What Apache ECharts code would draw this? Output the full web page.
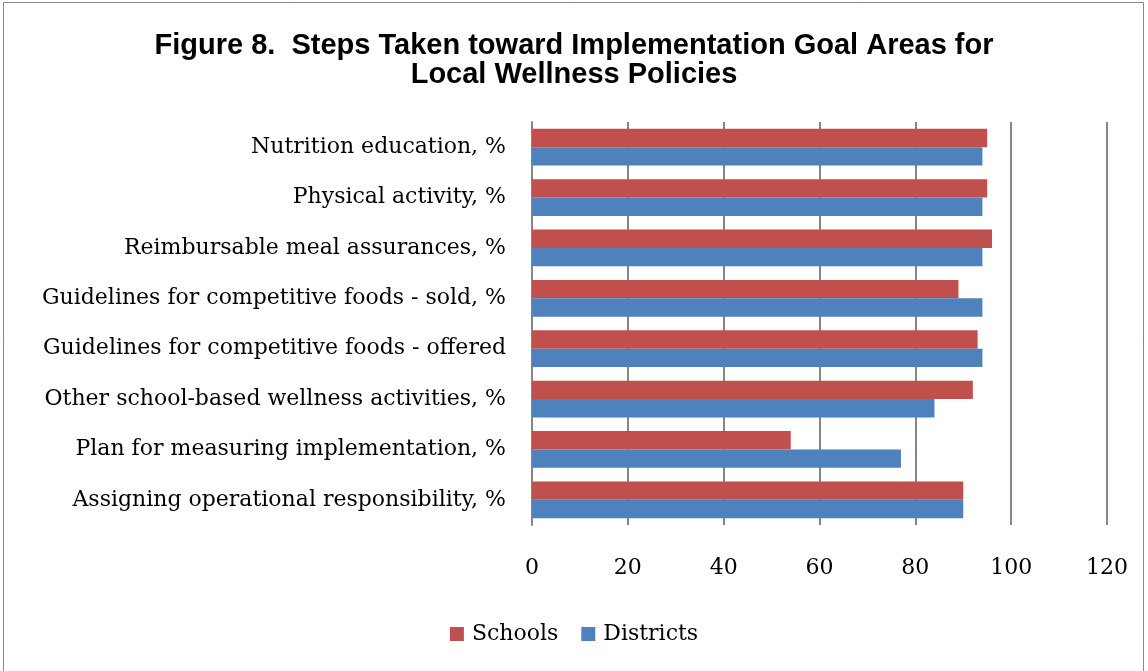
<!DOCTYPE html>
<html>
<head>
<meta charset="utf-8">
<script src="https://cdn.jsdelivr.net/npm/echarts@6/dist/echarts.min.js"></script>
<style>html,body{margin:0;padding:0;background:#fff}#c{width:1148px;height:671px}</style>
</head>
<body>
<div id="c"></div>
<script>
const categories = [
  "Nutrition education, %",
  "Physical activity, %",
  "Reimbursable meal assurances, %",
  "Guidelines for competitive foods - sold, %",
  "Guidelines for competitive foods - offered",
  "Other school-based wellness activities, %",
  "Plan for measuring implementation, %",
  "Assigning operational responsibility, %"
];
const schools = [95, 95, 96, 89, 93, 92, 54, 90];
const districts = [94, 94, 94, 94, 94, 84, 77, 90];
const seriesNames = ["Schools", "Districts"];
const titleText = "Figure 8.  Steps Taken toward Implementation Goal Areas for\nLocal Wellness Policies";

const chart = echarts.init(document.getElementById('c'));
const serif = "'DejaVu Serif', 'Liberation Serif', serif";
chart.setOption({
  animation: false,
  backgroundColor: '#fff',
  title: {
    text: titleText,
    left: 'center',
    top: 26,
    textStyle: {fontFamily: "'Liberation Sans', Arial, sans-serif", fontWeight: 'bold', fontSize: 29, lineHeight: 29, color: '#000'}
  },
  graphic: [{
    type: 'rect', shape: {x: 3.5, y: 2.5, width: 1140, height: 680},
    style: {fill: 'none', stroke: '#868686', lineWidth: 1}, silent: true
  }],
  legend: {
    data: seriesNames,
    bottom: 21,
    left: 'center',
    itemWidth: 14, itemHeight: 14, itemGap: 23,
    icon: 'rect',
    textStyle: {fontFamily: serif, fontSize: 22, color: '#000', padding: [0,0,0,3]}
  },
  grid: {left: 532, right: 41, top: 122, bottom: 146, containLabel: false},
  xAxis: {
    type: 'value', min: 0, max: 120, interval: 20,
    axisLine: {show: false},
    axisTick: {show: false},
    splitLine: {show: true, lineStyle: {color: '#868686', width: 2}},
    axisLabel: {fontFamily: serif, fontSize: 22, color: '#000', margin: 32}
  },
  yAxis: {
    type: 'category', data: categories, inverse: true,
    axisLine: {show: true, lineStyle: {color: '#868686', width: 2}},
    axisTick: {show: false},
    axisLabel: {fontFamily: serif, fontSize: 22, color: '#000', margin: 26, padding: [4,0,0,0]}
  },
  series: [
    {name: seriesNames[0], type: 'bar', data: schools, barGap: '0%', barCategoryGap: '27%',
     itemStyle: {color: '#C0504D'}},
    {name: seriesNames[1], type: 'bar', data: districts, barGap: '0%', barCategoryGap: '27%',
     itemStyle: {color: '#4F81BD'}}
  ]
});
</script>
</body>
</html>
